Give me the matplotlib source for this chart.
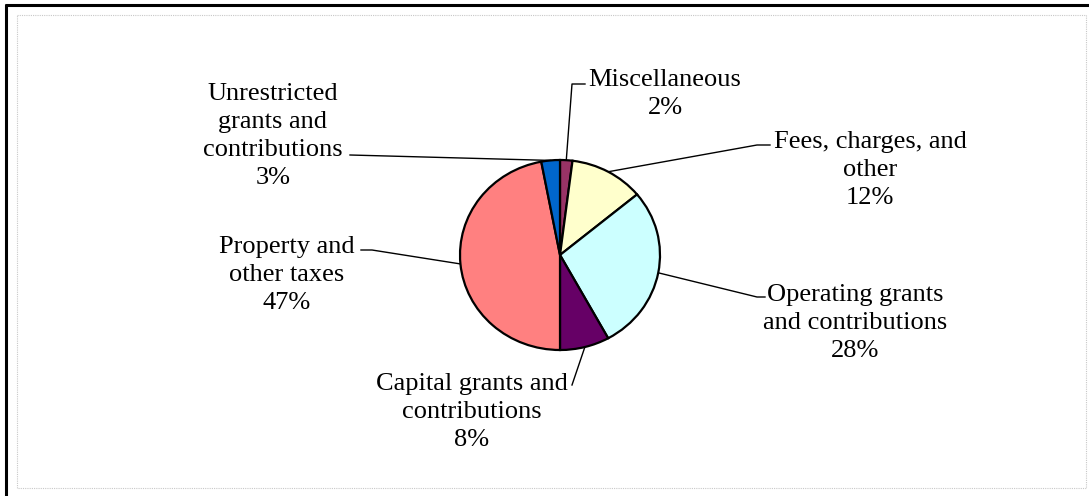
'''
Revenue sources pie chart with leader-line labels.
'''

import numpy as np
import matplotlib
matplotlib.use("Agg")
import matplotlib.pyplot as plt
from matplotlib.patches import Rectangle

# Data

labels = ["Miscellaneous", "Fees, charges, and\nother", "Operating grants\nand contributions",
          "Capital grants and\ncontributions", "Property and\nother taxes",
          "Unrestricted\ngrants and\ncontributions"]
shares = [2, 12, 28, 8, 47, 3]
colors = ["#993366", "#FFFFCC", "#CCFFFF", "#660066", "#FF8080", "#0066CC"]

# label text centres and leader end points, in pixels (layout only)
label_pos = [(665, 94), (870, 170), (855, 323), (472, 412), (287, 275), (273, 136)]
leader_end = [[(585, 84), (572, 84)], [(770, 145), (757, 145)], [(765, 297), (757, 297)],
              [(572, 385)], [(361, 250), (372, 250)], [(350, 155)]]

W, H = 1089, 496

plt.rcParams["font.family"] = ["Liberation Serif", "DejaVu Serif"]

fig = plt.figure(figsize=(W / 100, H / 100), dpi=100)

# overlay axes in pixel coordinates
ax = fig.add_axes([0, 0, 1, 1])
ax.set_xlim(0, W)
ax.set_ylim(H, 0)
ax.axis("off")

# pie axes (slightly squashed, as in the original)
cx, cy, rx, ry = 560, 255, 100, 95
pad = 1.03
pax = fig.add_axes([(cx - rx * pad) / W, (H - cy - ry * pad) / H,
                    2 * rx * pad / W, 2 * ry * pad / H])
wedges, _ = pax.pie(shares, colors=colors, startangle=90, counterclock=False,
                    wedgeprops=dict(edgecolor="black", linewidth=1.6))
pax.set_aspect("auto")
pax.set_xlim(-pad, pad)
pax.set_ylim(-pad, pad)
pax.axis("off")

# borders
ax.add_patch(Rectangle((17, 15), 1069, 473, fill=False, edgecolor="#C8C8C8",
                       linewidth=0.8, linestyle=(0, (1, 1))))
ax.plot([6, 6], [4, H], color="black", linewidth=2.2, solid_capstyle="butt")
ax.plot([5, W], [5, 5], color="black", linewidth=2.2, solid_capstyle="butt")

# leader lines and labels
for w, lab, share, (tx, ty), ends in zip(wedges, labels, shares, label_pos, leader_end):
    mid = np.deg2rad((w.theta1 + w.theta2) / 2)
    disp = pax.transData.transform((np.cos(mid), np.sin(mid)))
    px, py = ax.transData.inverted().transform(disp)
    xs = [px] + [e[0] for e in reversed(ends)]
    ys = [py] + [e[1] for e in reversed(ends)]
    ax.plot(xs, ys, color="black", linewidth=1.0)
    ax.text(tx, ty, f"{lab}\n{share}%", ha="center", va="center",
            multialignment="center", fontsize=19, linespacing=1.35)

fig.savefig("out.png", dpi=100)
